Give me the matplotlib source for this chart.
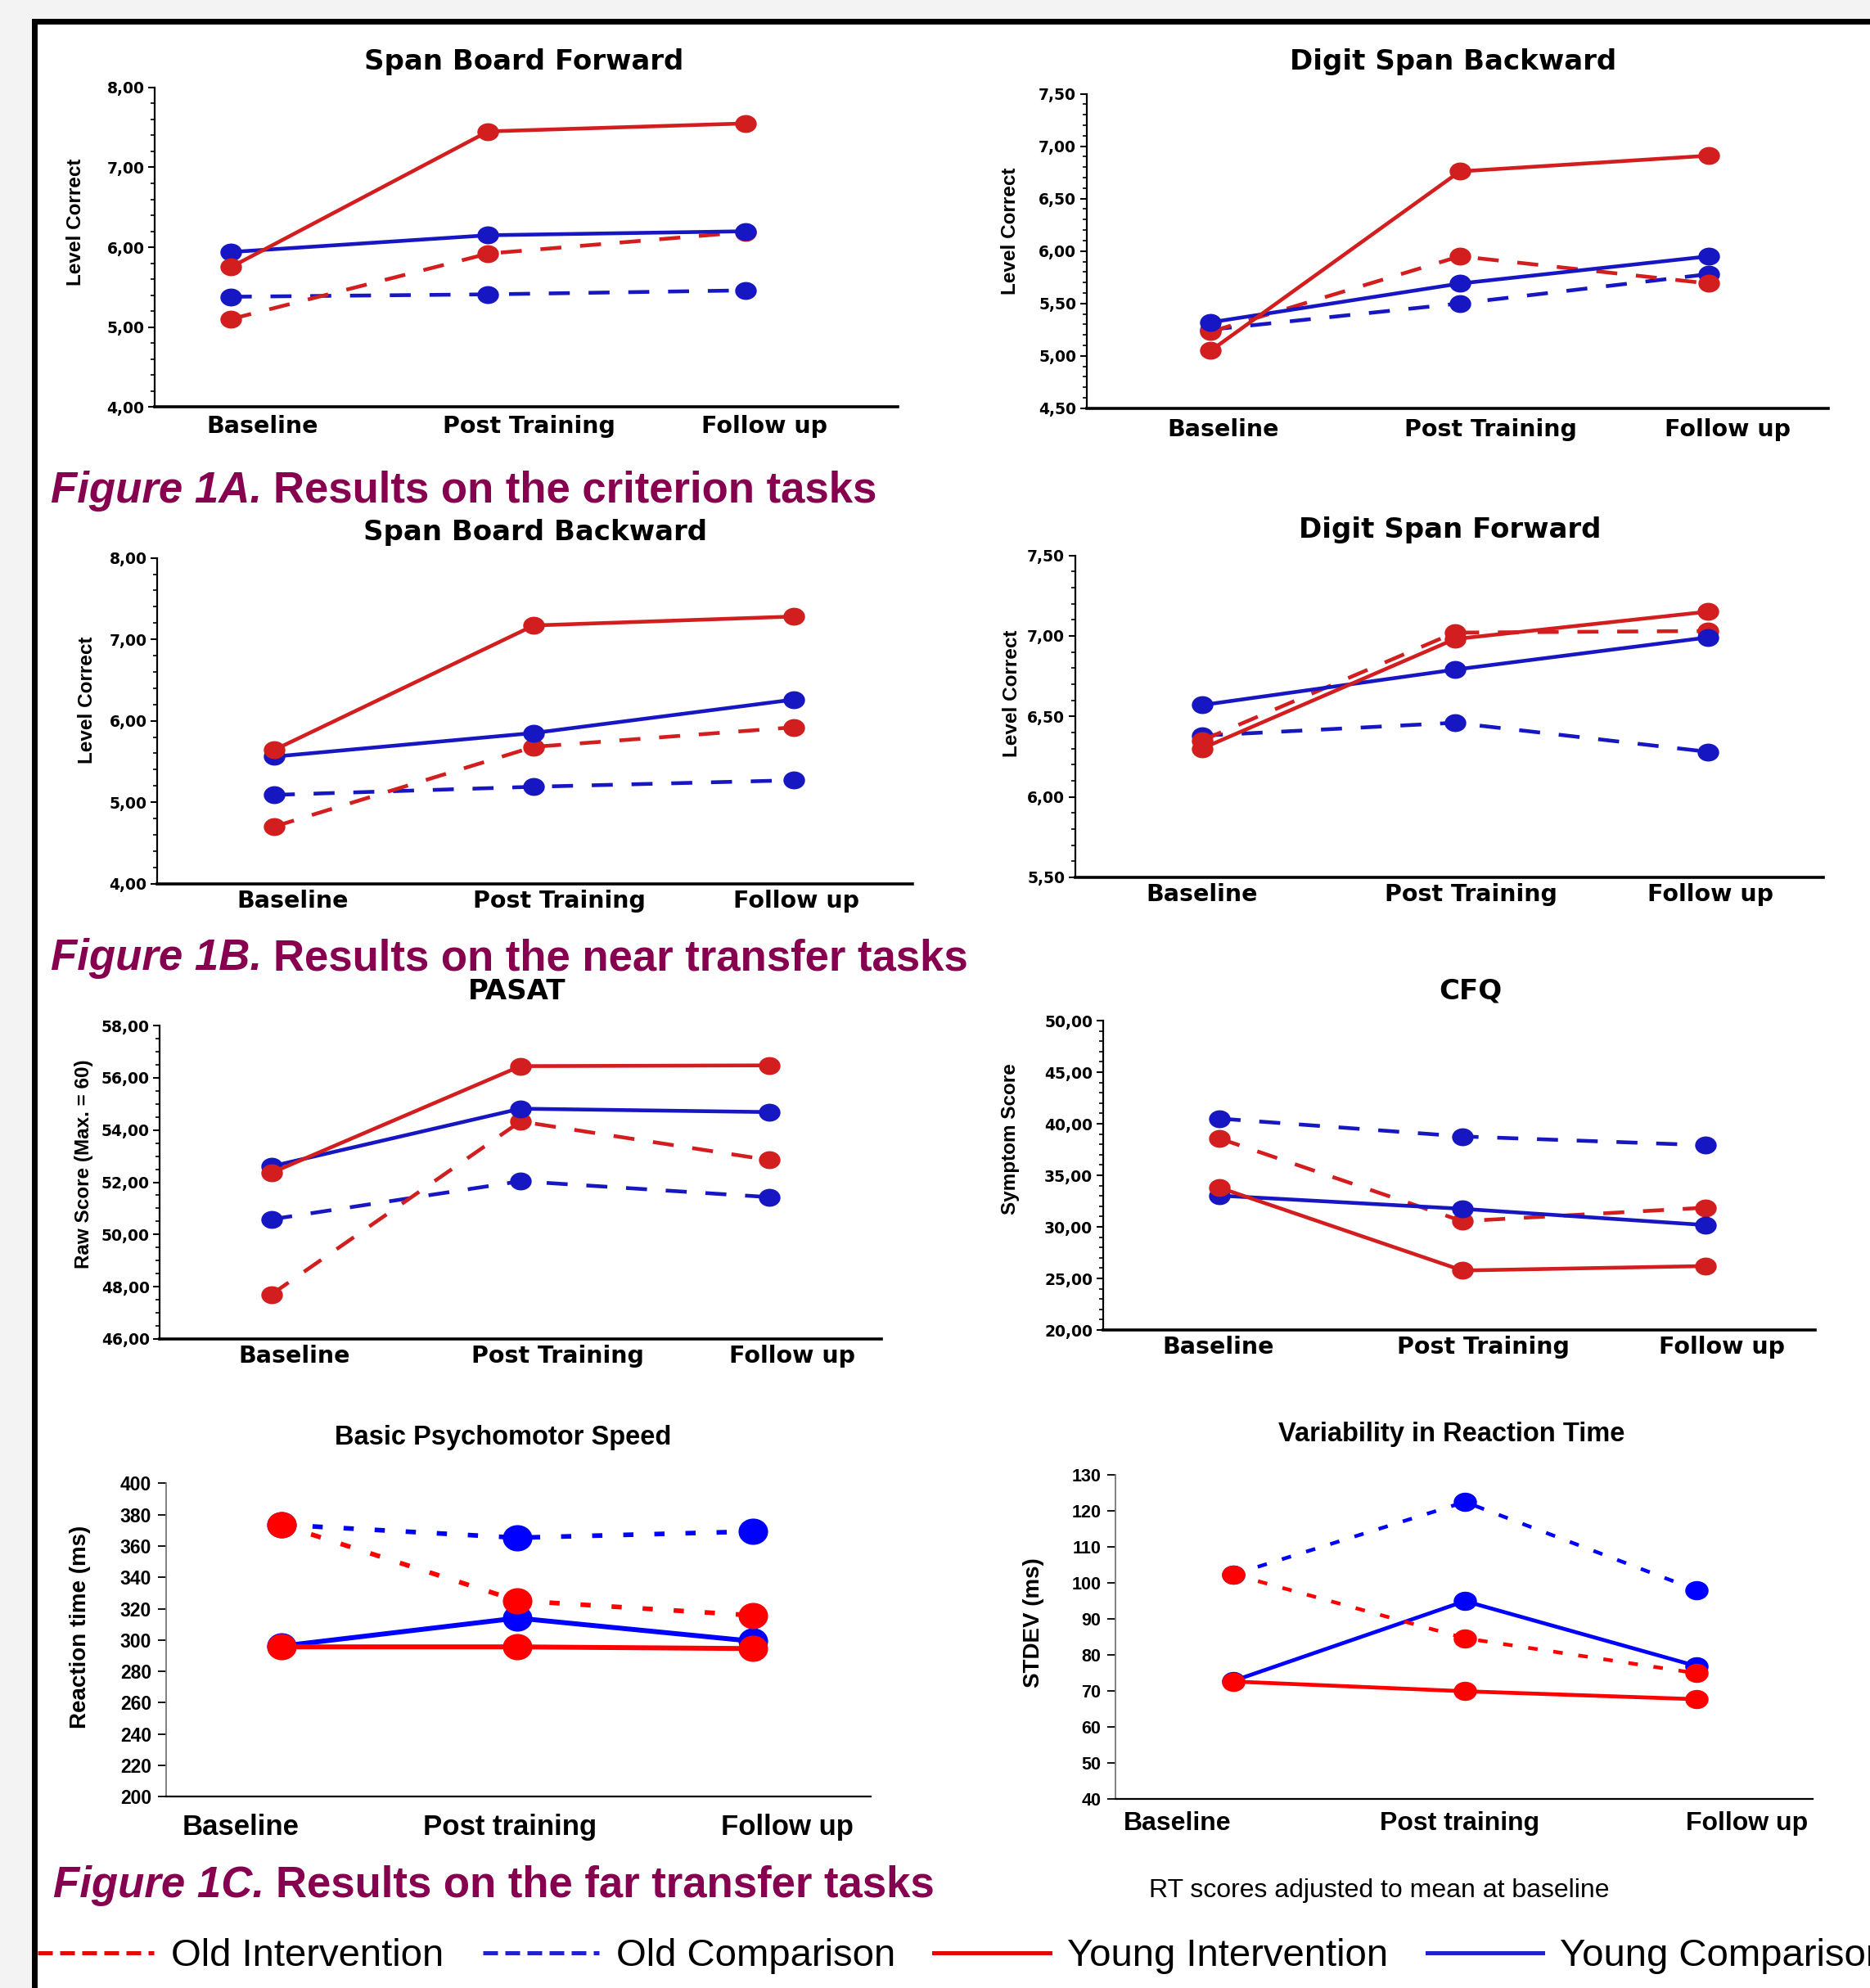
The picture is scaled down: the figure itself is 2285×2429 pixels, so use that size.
import numpy as np
import matplotlib
matplotlib.use("Agg")
import matplotlib.pyplot as plt
import matplotlib.transforms as mtransforms
from matplotlib.path import Path
from matplotlib.lines import Line2D
from matplotlib.patches import Rectangle
from matplotlib.text import Annotation

# -----------------------------------------------------------------------
# Data
# -----------------------------------------------------------------------
times_a = ["Baseline", "Post Training", "Follow up"]
times_b = ["Baseline", "Post training", "Follow up"]
groups = ["Old Intervention", "Old Comparison", "Young Intervention", "Young Comparison"]

# Span Board Forward
sbf_old_int = [5.10, 5.92, 6.19]
sbf_old_comp = [5.38, 5.41, 5.46]
sbf_young_int = [5.75, 7.45, 7.55]
sbf_young_comp = [5.94, 6.15, 6.20]

# Digit Span Backward
dsb_old_int = [5.23, 5.95, 5.69]
dsb_old_comp = [5.25, 5.50, 5.78]
dsb_young_int = [5.05, 6.76, 6.91]
dsb_young_comp = [5.32, 5.69, 5.95]

# Span Board Backward
sbb_old_int = [4.70, 5.68, 5.92]
sbb_old_comp = [5.09, 5.19, 5.27]
sbb_young_int = [5.64, 7.17, 7.28]
sbb_young_comp = [5.56, 5.85, 6.26]

# Digit Span Forward
dsf_old_int = [6.35, 7.02, 7.03]
dsf_old_comp = [6.38, 6.46, 6.28]
dsf_young_int = [6.30, 6.98, 7.15]
dsf_young_comp = [6.57, 6.79, 6.99]

# PASAT
pasat_old_int = [47.70, 54.33, 52.85]
pasat_old_comp = [50.58, 52.04, 51.43]
pasat_young_int = [52.36, 56.45, 56.48]
pasat_young_comp = [52.61, 54.82, 54.69]

# CFQ
cfq_old_int = [38.57, 30.55, 31.86]
cfq_old_comp = [40.50, 38.77, 37.92]
cfq_young_int = [33.80, 25.77, 26.20]
cfq_young_comp = [33.03, 31.75, 30.18]

# Basic Psychomotor Speed (ms)
rt_old_int = [373.6, 325.1, 315.7]
rt_old_comp = [373.6, 365.3, 369.3]
rt_young_int = [295.6, 295.6, 294.5]
rt_young_comp = [296.1, 314.0, 299.2]

# Variability in Reaction Time (ms)
var_old_int = [102.3, 84.6, 74.9]
var_old_comp = [102.3, 122.4, 98.0]
var_young_int = [72.6, 69.9, 67.7]
var_young_comp = [72.8, 94.9, 76.9]

# -----------------------------------------------------------------------
# Layout helpers (positions measured on a 1475 x 1568 view of the poster)
# -----------------------------------------------------------------------
W, H = 1475.0, 1568.0


def fx(x):
    return x / W


def fy(y):
    return 1 - y / H


def ellipse(aspect):
    return Path.unit_circle().transformed(mtransforms.Affine2D().scale(aspect, 1.0))


RED_A, BLUE_A = "#d21e1e", "#1616c2"
RED_B, BLUE_B = "#ff0000", "#0000ff"
PLUM = "#870050"
SPSS_FONT = "DejaVu Sans"
XL_FONT = "Liberation Sans"

fig = plt.figure(figsize=(22.85, 24.29), dpi=100, facecolor="#f3f3f3")
fig.patches.append(Rectangle((41.5 / 2285, -0.05), 1.2, 1 - 26 / 2429 + 0.05,
                             transform=fig.transFigure, fc="white", ec="black",
                             lw=5, zorder=-10))

# -----------------------------------------------------------------------
# Panels
# -----------------------------------------------------------------------
panels = [
    dict(kind="spss", title="Span Board Forward", tpos=(413, 49),
         ylabel="Level Correct", lpos=(60, 175), box=(122, 708, 69, 321),
         pts=(182, 588), labx=(207, 417, 603), ylim=(4, 8), major=1, minor=0.2,
         pad=7, xlabels=times_a,
         series=[sbf_old_int, sbf_old_comp, sbf_young_int, sbf_young_comp]),
    dict(kind="spss", title="Digit Span Backward", tpos=(1146, 49),
         ylabel="Level Correct", lpos=(797, 182), box=(857, 1442, 74, 322),
         pts=(955, 1348), labx=(965, 1176, 1363), ylim=(4.5, 7.5), major=0.5,
         minor=0.1, pad=9, xlabels=times_a,
         series=[dsb_old_int, dsb_old_comp, dsb_young_int, dsb_young_comp]),
    dict(kind="spss", title="Span Board Backward", tpos=(422, 420),
         ylabel="Level Correct", lpos=(69, 552), box=(124, 720, 440, 697),
         pts=(216, 626), labx=(231, 441, 628), ylim=(4, 8), major=1, minor=0.2,
         pad=5, xlabels=times_a,
         series=[sbb_old_int, sbb_old_comp, sbb_young_int, sbb_young_comp]),
    dict(kind="spss", title="Digit Span Forward", tpos=(1144, 418),
         ylabel="Level Correct", lpos=(798, 547), box=(848, 1438, 438, 692),
         pts=(948, 1347), labx=(948, 1160, 1349), ylim=(5.5, 7.5), major=0.5,
         minor=0.1, pad=5, xlabels=times_a,
         series=[dsf_old_int, dsf_old_comp, dsf_young_int, dsf_young_comp]),
    dict(kind="spss", title="PASAT", tpos=(408, 782),
         ylabel="Raw Score (Max. = 60)", lpos=(66, 918), box=(126, 695, 809, 1056),
         pts=(214, 607), labx=(232, 440, 625), ylim=(46, 58), major=2, minor=0.5,
         pad=5, xlabels=times_a,
         series=[pasat_old_int, pasat_old_comp, pasat_young_int, pasat_young_comp]),
    dict(kind="spss", title="CFQ", tpos=(1160, 782),
         ylabel="Symptom Score", lpos=(797, 898), box=(870, 1432, 805, 1049),
         pts=(962, 1345), labx=(961, 1170, 1358), ylim=(20, 50), major=5, minor=1,
         pad=5, xlabels=times_a,
         series=[cfq_old_int, cfq_old_comp, cfq_young_int, cfq_young_comp]),
    dict(kind="xl", title="Basic Psychomotor Speed", tpos=(397, 1134),
         ylabel="Reaction time (ms)", lpos=(63, 1283), box=(131, 687, 1170, 1417),
         pts=(222, 594), labx=(190, 402, 621), ylim=(200, 400), major=20,
         pad=15, xsize=25, ysize=16.5, ms=25, aspect=1.13, lw=4.3,
         dots=(2.2, 4.5), xlabels=times_b,
         series=[rt_old_int, rt_old_comp, rt_young_int, rt_young_comp]),
    dict(kind="xl", title="Variability in Reaction Time", tpos=(1145, 1131),
         ylabel="STDEV (ms)", lpos=(815, 1280), box=(880, 1430, 1163, 1419),
         pts=(973, 1338), labx=(929, 1151, 1378), ylim=(40, 130), major=10,
         pad=11, xsize=23, ysize=15.5, ms=19.5, aspect=1.23, lw=3.4,
         dots=(2.6, 4.3), xlabels=times_b,
         series=[var_old_int, var_old_comp, var_young_int, var_young_comp]),
]

for p in panels:
    x0, x1, yt, yb = p["box"]
    ax = fig.add_axes([fx(x0), fy(yb), fx(x1) - fx(x0), fy(yt) - fy(yb)])
    ax.set_facecolor("none")
    p0, p2 = p["pts"]
    d = (p2 - p0) / 2.0
    ax.set_xlim((x0 - p0) / d, 2 + (x1 - p2) / d)
    ax.set_ylim(*p["ylim"])
    xs = np.arange(len(p["xlabels"]))
    old_int, old_comp, young_int, young_comp = p["series"]

    for side in ("top", "right"):
        ax.spines[side].set_visible(False)

    lo, hi = p["ylim"]
    yt_vals = np.arange(lo, hi + p["major"] / 2, p["major"])
    xt_vals = [(lx - p0) / d for lx in p["labx"]]

    if p["kind"] == "spss":
        mk = ellipse(1.22)
        dash = (0, (5.6, 5.0))
        styles = [(old_comp, BLUE_A, dash), (old_int, RED_A, dash),
                  (young_comp, BLUE_A, "-"), (young_int, RED_A, "-")]
        for vals, col, ls in styles:
            ax.plot(xs, vals, color=col, ls=ls, lw=3.3, marker=mk, ms=18,
                    mfc=col, mec=col, solid_capstyle="butt", clip_on=False)
        ax.spines["left"].set_linewidth(1.6)
        ax.spines["bottom"].set_linewidth(2.6)
        ax.set_yticks(yt_vals, [f"{v:.2f}".replace(".", ",") for v in yt_vals],
                      fontsize=13.5, fontweight="bold", family=SPSS_FONT)
        ax.set_yticks(np.arange(lo, hi + 1e-9, p["minor"]), minor=True)
        ax.tick_params(axis="y", which="major", length=6, width=1.5, pad=3)
        ax.tick_params(axis="y", which="minor", length=3.5, width=1.2)
        ax.set_xticks(xt_vals, p["xlabels"], fontsize=20.5, fontweight="bold",
                      family=SPSS_FONT)
        ax.tick_params(axis="x", length=0, pad=p["pad"])
        fig.text(fx(p["tpos"][0]), fy(p["tpos"][1]), p["title"], ha="center",
                 va="center", fontsize=24.5, fontweight="bold", family=SPSS_FONT)
        fig.text(fx(p["lpos"][0]), fy(p["lpos"][1]), p["ylabel"], ha="center",
                 va="center", rotation=90, fontsize=17.5, fontweight="bold",
                 family=XL_FONT)
    else:
        mk = ellipse(p["aspect"])
        dot = (0, p["dots"])
        styles = [(old_comp, BLUE_B, dot), (young_comp, BLUE_B, "-"),
                  (old_int, RED_B, dot), (young_int, RED_B, "-")]
        for vals, col, ls in styles:
            lw = p["lw"] if ls == "-" else p["lw"] * 0.95
            ax.plot(xs, vals, color=col, ls=ls, lw=lw, marker=mk, ms=p["ms"],
                    mfc=col, mec=col, solid_capstyle="butt", clip_on=False)
        ax.spines["left"].set_linewidth(1.3)
        ax.spines["left"].set_color("#777777")
        ax.spines["bottom"].set_linewidth(1.6)
        ax.set_yticks(yt_vals, [f"{v:.0f}" for v in yt_vals], fontsize=p["ysize"],
                      fontweight="bold", family=XL_FONT)
        ax.tick_params(axis="y", length=7, width=1.3, pad=6)
        ax.set_xticks(xt_vals, p["xlabels"], fontsize=p["xsize"], fontweight="bold",
                      family=XL_FONT)
        ax.tick_params(axis="x", length=0, pad=p["pad"])
        fig.text(fx(p["tpos"][0]), fy(p["tpos"][1]), p["title"], ha="center",
                 va="center", fontsize=23.5, fontweight="bold", family=XL_FONT)
        fig.text(fx(p["lpos"][0]), fy(p["lpos"][1]), p["ylabel"], ha="center",
                 va="center", rotation=90, fontsize=20, fontweight="bold",
                 family=XL_FONT)

# -----------------------------------------------------------------------
# Section headings, note and legend
# -----------------------------------------------------------------------
headings = [
    ((40, 387), "Figure 1A.", "Results on the criterion tasks"),
    ((40, 756), "Figure 1B.", "Results on the near transfer tasks"),
    ((42, 1487), "Figure 1C.", "Results on the far transfer tasks"),
]
for (hx, hy), tag, rest in headings:
    t = fig.text(fx(hx), fy(hy), tag, ha="left", va="center", fontsize=38,
                 fontweight="bold", fontstyle="italic", color=PLUM, family=XL_FONT)
    fig.add_artist(Annotation(rest, xy=(1, 0.5), xycoords=t, xytext=(10, 0),
                              textcoords="offset points", ha="left", va="center",
                              fontsize=38, fontweight="bold", color=PLUM,
                              family=XL_FONT))

fig.text(fx(1088), fy(1491), "RT scores adjusted to mean at baseline", ha="center",
         va="center", fontsize=23, family=XL_FONT)

handles = [
    Line2D([], [], color="#e00a0a", lw=3.6, ls=(0, (3.6, 1.8))),
    Line2D([], [], color="#2222cc", lw=3.6, ls=(0, (3.6, 1.8))),
    Line2D([], [], color="#e00a0a", lw=3.6, ls="-"),
    Line2D([], [], color="#2222cc", lw=3.6, ls="-"),
]
fig.legend(handles, groups, loc="center left", bbox_to_anchor=(fx(30), fy(1543)),
           ncol=4, frameon=False, prop={"family": XL_FONT, "size": 34},
           handlelength=3.0, handletextpad=0.45, columnspacing=1.0,
           borderpad=0, borderaxespad=0)

fig.savefig("out.png", dpi=100, facecolor=fig.get_facecolor())
